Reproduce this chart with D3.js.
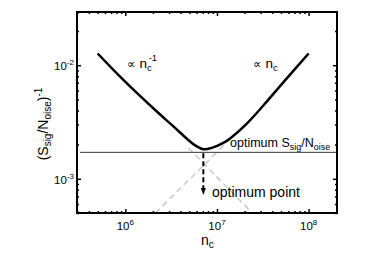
<!DOCTYPE html>
<meta charset="utf-8">
<script src="https://d3js.org/d3.v7.min.js"></script>
<style>
  body { margin: 0; background: #fff; }
  text { font-family: "Liberation Sans", Arial, sans-serif; fill: #000; }
</style>
<div id="my_dataviz"></div>
<script>

// data
var curveN = [4.99e5, 9.58e5, 2.22e6, 3.37e6, 4.72e6, 5.67e6, 7.1e6, 8.91e6, 1.146e7, 1.4e7, 2.13e7, 3.24e7, 5.35e7, 1.0e8];
var curveV = [1.268e-2, 7.38e-3, 3.89e-3, 2.88e-3, 2.245e-3, 1.99e-3, 1.82e-3, 1.88e-3, 2.05e-3, 2.28e-3, 3.08e-3, 4.46e-3, 7.14e-3, 1.268e-2];
var invN = [4.88e6, 2.43e7], invV = [1.87e-3, 5.0e-4];     // ∝ 1/n asymptote (dashed)
var linN = [2.13e6, 2.32e7], linV = [5.0e-4, 3.36e-3];     // ∝ n asymptote (dashed)
var optLevel = 1.71e-3, optN = 7.1e6, arrowTipV = 7.2e-4;
var xMajor = [1e6, 1e7, 1e8], xLabels = ["6", "7", "8"];
var yMajor = [1e-3, 1e-2], yLabels = ["-3", "-2"];

// set the dimensions and margins of the graph
var margin = {top: 12, right: 37, bottom: 43, left: 77},
    width = 374 - margin.left - margin.right,
    height = 256 - margin.top - margin.bottom;

var svg = d3.select("#my_dataviz")
  .append("svg")
    .attr("width", 374)
    .attr("height", 256)
  .append("g")
    .attr("transform", "translate(" + margin.left + "," + margin.top + ")");

var x = d3.scaleLog().domain([2.97e5, 2.04e8]).range([0, width]);
var y = d3.scaleLog().domain([5.0e-4, 2.94e-2]).range([height, 0]);

// minor ticks
var xMinor = x.ticks().filter(function(d) { return xMajor.indexOf(d) < 0; });
var yMinor = y.ticks().filter(function(d) { return yMajor.indexOf(d) < 0; });

function axisStyle(g) {
  g.select(".domain").remove();
  g.selectAll("line").attr("stroke", "#000").attr("stroke-width", 1.5);
  g.selectAll("text").remove();
}
svg.append("g").attr("transform", "translate(0," + height + ")")
  .call(d3.axisBottom(x).tickValues(xMajor).tickSize(-4)).call(axisStyle);
svg.append("g").attr("transform", "translate(0," + height + ")")
  .call(d3.axisBottom(x).tickValues(xMinor).tickSize(-2)).call(axisStyle);
svg.append("g")
  .call(d3.axisTop(x).tickValues(xMajor).tickSize(-4)).call(axisStyle);
svg.append("g")
  .call(d3.axisTop(x).tickValues(xMinor).tickSize(-2)).call(axisStyle);
svg.append("g")
  .call(d3.axisLeft(y).tickValues(yMajor).tickSize(-4)).call(axisStyle);
svg.append("g")
  .call(d3.axisLeft(y).tickValues(yMinor).tickSize(-2)).call(axisStyle);
svg.append("g").attr("transform", "translate(" + width + ",0)")
  .call(d3.axisRight(y).tickValues(yMajor).tickSize(-4)).call(axisStyle);
svg.append("g").attr("transform", "translate(" + width + ",0)")
  .call(d3.axisRight(y).tickValues(yMinor).tickSize(-2)).call(axisStyle);

// tick labels
xMajor.forEach(function(d, i) {
  var t = svg.append("text")
    .attr("x", x(d)).attr("y", height + 17)
    .attr("text-anchor", "middle").attr("font-size", 11.5);
  t.append("tspan").text("10");
  t.append("tspan").attr("dy", -5).attr("font-size", 8).text(xLabels[i]);
});
yMajor.forEach(function(d, i) {
  var t = svg.append("text")
    .attr("x", -3).attr("y", y(d) + 5)
    .attr("text-anchor", "end").attr("font-size", 11.5);
  t.append("tspan").text("10");
  t.append("tspan").attr("dy", -5).attr("font-size", 8).text(yLabels[i]);
});

// axis titles
var xt = svg.append("text")
  .attr("x", width / 2 - 6).attr("y", height + 32)
  .attr("font-size", 14);
xt.append("tspan").text("n");
xt.append("tspan").attr("dy", 3).attr("font-size", 10).text("c");

var yt = svg.append("text")
  .attr("transform", "translate(" + (-29) + "," + (112) + ") rotate(-90)")
  .attr("text-anchor", "middle").attr("font-size", 14);
yt.append("tspan").text("(S");
yt.append("tspan").attr("dy", 3).attr("font-size", 10).text("sig");
yt.append("tspan").attr("dy", -3).text("/N");
yt.append("tspan").attr("dy", 3).attr("font-size", 10).text("oise");
yt.append("tspan").attr("dy", -3).text(")");
yt.append("tspan").attr("dy", -6).attr("font-size", 10).text("-1");

var line = d3.line()
  .x(function(d) { return x(d[0]); })
  .y(function(d) { return y(d[1]); });

// dashed asymptotes
svg.append("path")
  .datum(d3.zip(invN, invV))
  .attr("d", line)
  .attr("fill", "none").attr("stroke", "#bdbdbd").attr("stroke-width", 1.2)
  .attr("stroke-dasharray", "6,4");
svg.append("path")
  .datum(d3.zip(linN, linV))
  .attr("d", line)
  .attr("fill", "none").attr("stroke", "#bdbdbd").attr("stroke-width", 1.2)
  .attr("stroke-dasharray", "6,4");

// optimum level
svg.append("path")
  .datum([[x.domain()[0] * 1.08, optLevel], [x.domain()[1], optLevel]])
  .attr("d", line)
  .attr("fill", "none").attr("stroke", "#333").attr("stroke-width", 1);

// main curve
svg.append("path")
  .datum(d3.zip(curveN, curveV))
  .attr("d", line.curve(d3.curveCatmullRom))
  .attr("fill", "none").attr("stroke", "#000").attr("stroke-width", 2.5);

// arrow to optimum point
var ax = x(optN), ay0 = y(optLevel) + 1, ay1 = y(arrowTipV);
svg.append("line")
  .attr("x1", ax).attr("x2", ax).attr("y1", ay0).attr("y2", ay1 - 6)
  .attr("stroke", "#000").attr("stroke-width", 2)
  .attr("stroke-dasharray", "5,3");
svg.append("path")
  .attr("d", "M" + (ax - 2.5) + "," + (ay1 - 7) + "L" + (ax + 2.5) + "," + (ay1 - 7) + "L" + ax + "," + ay1 + "Z")
  .attr("fill", "#000");

// frame
svg.append("rect")
  .attr("width", width).attr("height", height)
  .attr("fill", "none").attr("stroke", "#000").attr("stroke-width", 2);

// annotations
var a1 = svg.append("text").attr("x", 127 - margin.left).attr("y", 68 - margin.top).attr("font-size", 13.5);
a1.append("tspan").attr("font-size", 12).attr("font-family", "DejaVu Sans").text("\u221D ");
a1.append("tspan").text("n");
a1.append("tspan").attr("dy", 3).attr("font-size", 9.5).text("c");
a1.append("tspan").attr("dy", -10).attr("dx", -3).attr("font-size", 9.5).text("-1");

var a2 = svg.append("text").attr("x", 253 - margin.left).attr("y", 68 - margin.top).attr("font-size", 13.5);
a2.append("tspan").attr("font-size", 12).attr("font-family", "DejaVu Sans").text("\u221D ");
a2.append("tspan").text("n");
a2.append("tspan").attr("dy", 3).attr("font-size", 9.5).text("c");

var a3 = svg.append("text").attr("x", 230 - margin.left).attr("y", 147 - margin.top).attr("font-size", 12.5);
a3.append("tspan").text("optimum S");
a3.append("tspan").attr("dy", 3).attr("font-size", 9).text("sig");
a3.append("tspan").attr("dy", -3).text("/N");
a3.append("tspan").attr("dy", 3).attr("font-size", 9).text("oise");

svg.append("text").attr("x", 212 - margin.left).attr("y", 197 - margin.top)
  .attr("font-size", 14).text("optimum point");

</script>
